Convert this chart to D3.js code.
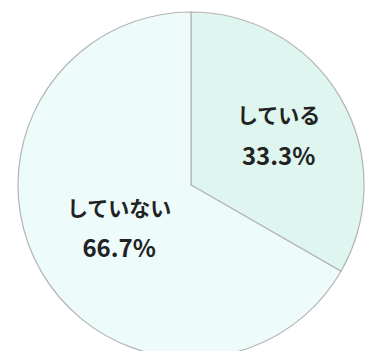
<!DOCTYPE html>
<html>
<head>
<meta charset="utf-8">
<script src="https://cdn.jsdelivr.net/npm/d3@7"></script>
<style>
  body { margin: 0; background: #fff; }
  svg { display: block; }
  text { font-family: "Noto Sans CJK JP", "Noto Sans", sans-serif; font-weight: bold; fill: #222; }
</style>
</head>
<body>
<div id="chart"></div>
<script>
// 回答の内訳
const labels = ["している", "していない"];
const values = [33.3, 66.7];
const colors = ["#dff5f0", "#eefbfb"];
const labelRadius = [0.585, 0.48]; // ラベルの中心までの距離（半径比）

const width = 365, height = 351;
const cx = 191, cy = 185, radius = 173;

const svg = d3.select("#chart").append("svg")
    .attr("width", width)
    .attr("height", height);

const pie = d3.pie().sort(null).value(d => d.value);
const arcs = pie(labels.map((l, i) => ({ label: l, value: values[i] })));

const arc = d3.arc().innerRadius(0).outerRadius(radius);

const g = svg.append("g").attr("transform", `translate(${cx},${cy})`);

g.selectAll("path")
    .data(arcs)
    .join("path")
    .attr("d", arc)
    .attr("fill", (d, i) => colors[i])
    .attr("stroke", "#b4b4b4")
    .attr("stroke-width", 1.2);

const labelG = g.selectAll(".lbl")
    .data(arcs)
    .join("g")
    .attr("class", "lbl")
    .attr("transform", (d, i) => {
        const r = radius * labelRadius[i];
        const [x, y] = d3.arc().innerRadius(r).outerRadius(r).centroid(d);
        return `translate(${x},${y})`;
    });

labelG.append("text")
    .attr("text-anchor", "middle")
    .attr("dominant-baseline", "central")
    .attr("y", -20)
    .attr("font-size", "21px")
    .text(d => d.data.label);

labelG.append("text")
    .attr("text-anchor", "middle")
    .attr("dominant-baseline", "central")
    .attr("y", 20)
    .attr("font-size", "24px")
    .text(d => d.data.value.toFixed(1) + "%");
</script>
</body>
</html>
